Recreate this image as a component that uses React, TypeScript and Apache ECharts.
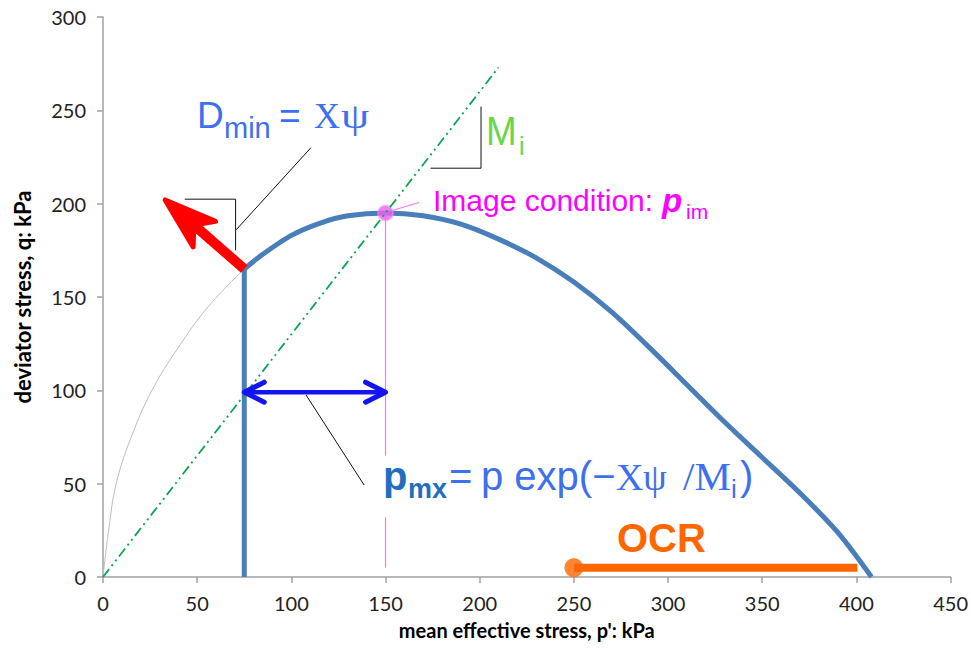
import React, { useEffect, useRef } from "react";
import * as echarts from "echarts";

// Yield surface in p'-q space (kPa)
const yieldCurve: [number, number][] = [
  [75, 165], [85, 173], [100, 183], [115, 189.5], [130, 193.5], [150, 195],
  [170, 193.5], [190, 189], [210, 181], [230, 171], [250, 158], [270, 142],
  [290, 123], [310, 103], [330, 83], [350, 64], [370, 45], [390, 24], [408, 0],
];
// Vertical cut-off of the surface at p_mx
const cutoffLine: [number, number][] = [[75, 0], [75, 165]];
// Faint continuation of the surface towards the origin
const innerCurve: [number, number][] = [
  [0, 0], [3, 25], [7, 50], [15, 75], [26, 100], [40, 123], [56, 145], [75, 165],
];
// Critical state line, slope M_i
const cslLine: [number, number][] = [[0, 0], [210, 273]];
// Image condition point and its projection
const imagePoint: [number, number] = [150, 195];
const imageDropUpper: [number, number][] = [[150, 195], [150, 65]];
const imageDropLower: [number, number][] = [[150, 32], [150, 5]];
// Dilatancy arrow (D_min) and the p_mx span
const dilatancyArrow: [number, number][] = [[75, 165], [33, 202]];
const pmxSpan: [number, number][] = [[75, 99], [150, 99]];
// OCR bar
const ocrBar: [number, number][] = [[250, 5], [400.5, 5]];
// Callout lines
const dminLeader: [number, number][] = [[110.4, 230], [70.7, 186]];
const dminBracket: [number, number][] = [[43.4, 202.4], [70.4, 202.4], [70.4, 175]];
const slopeBracket: [number, number][] = [[173.9, 219], [200.7, 219], [200.7, 252]];
const imageLeader: [number, number][] = [[151.9, 195.8], [167.7, 200.6]];
const pmxLeader: [number, number][] = [[107.8, 97.5], [138.6, 49.3]];

const SANS = '"Liberation Sans", Arial, sans-serif';
const SERIF = '"Liberation Serif", "Times New Roman", serif';
const AXIS_FONT = 'Lato, "Open Sans", sans-serif';

const BLUE = "#3d6ff0";
const DARK_BLUE = "#1f6fbe";
const MAGENTA = "#ff00ff";
const PINK_LINE = "#ff70ff";
const GREEN = "#6ad64a";
const ORANGE = "#ff6600";

type Run = {
  text: string;
  x: number;
  base: number;
  size: number;
  color: string;
  family?: string;
  weight?: string;
  italic?: boolean;
  sx?: number;
};

function runText(r: Run) {
  return {
    type: "text",
    x: r.x,
    y: r.base - 0.345 * r.size,
    scaleX: r.sx ?? 1,
    z: 100,
    style: {
      text: r.text,
      fill: r.color,
      fontSize: r.size,
      fontFamily: r.family ?? SANS,
      fontWeight: r.weight ?? "normal",
      fontStyle: r.italic ? "italic" : "normal",
      align: "left",
      verticalAlign: "middle",
    },
  };
}

const labelRuns: Run[] = [
  // D_min = Xψ
  { text: "D", x: 197, base: 128.5, size: 37, color: BLUE },
  { text: "min", x: 224, base: 138.5, size: 29, color: BLUE },
  { text: "=", x: 279, base: 128.5, size: 37, color: BLUE },
  { text: "X", x: 314, base: 128.5, size: 36, color: BLUE, family: SERIF },
  { text: "ψ", x: 341, base: 128.5, size: 36, color: BLUE, family: SERIF, sx: 1.25 },
  // M_i
  { text: "M", x: 486, base: 145, size: 40, color: GREEN, sx: 0.92 },
  { text: "i", x: 519, base: 155, size: 25, color: GREEN },
  // Image condition: p_im
  { text: "Image condition:", x: 433, base: 211, size: 30, color: MAGENTA },
  { text: "p", x: 662, base: 212, size: 33, color: MAGENTA, weight: "bold", italic: true },
  { text: "im", x: 686, base: 219, size: 21, color: MAGENTA },
  // p_mx = p exp(−Xψ /M_i)
  { text: "p", x: 383, base: 490, size: 40, color: DARK_BLUE, weight: "bold" },
  { text: "mx", x: 408, base: 498, size: 27, color: DARK_BLUE, weight: "bold" },
  { text: "=", x: 449, base: 490, size: 40, color: BLUE },
  { text: "p exp(−", x: 481, base: 490, size: 40, color: BLUE },
  { text: "X", x: 616, base: 490, size: 38, color: BLUE, family: SERIF },
  { text: "ψ", x: 643, base: 490, size: 38, color: BLUE, family: SERIF },
  { text: "/M", x: 683, base: 490, size: 41, color: BLUE, family: SERIF },
  { text: "i", x: 731, base: 498, size: 26, color: BLUE },
  { text: ")", x: 740, base: 490, size: 40, color: BLUE },
  // OCR
  { text: "OCR", x: 617, base: 552, size: 40, color: ORANGE, weight: "bold" },
];

function lineSeries(data: [number, number][], color: string, width: number, z = 3, extra: any = {}) {
  const { smooth, ...style } = extra;
  return {
    type: "line",
    data,
    symbol: "none",
    silent: true,
    z,
    smooth: smooth ?? false,
    lineStyle: { color, width, ...style },
  };
}

export default function App() {
  const ref = useRef<HTMLDivElement>(null);

  useEffect(() => {
    if (!ref.current) return;
    const chart = echarts.init(ref.current, null, { renderer: "svg" });

    const leaders = [dminLeader, dminBracket, slopeBracket, pmxLeader];

    chart.setOption({
      animation: false,
      backgroundColor: "#ffffff",
      grid: { left: 103, right: 17.5, top: 17, bottom: 73 },
      xAxis: {
        type: "value",
        min: 0,
        max: 450,
        interval: 50,
        name: "mean effective stress, p': kPa",
        nameLocation: "middle",
        nameGap: 43,
        nameTextStyle: { fontFamily: AXIS_FONT, fontWeight: "bold", fontSize: 20, color: "#000" },
        axisLine: { lineStyle: { color: "#a0a0a0", width: 1.5 } },
        axisTick: { show: true, length: 6, lineStyle: { color: "#a0a0a0", width: 1.5 } },
        axisLabel: { fontFamily: AXIS_FONT, fontSize: 20, color: "#222", margin: 16 },
        splitLine: { show: false },
      },
      yAxis: {
        type: "value",
        min: 0,
        max: 300,
        interval: 50,
        name: "deviator stress, q: kPa",
        nameLocation: "middle",
        nameGap: 70,
        nameTextStyle: { fontFamily: AXIS_FONT, fontWeight: "bold", fontSize: 22, color: "#000" },
        axisLine: { show: true, lineStyle: { color: "#a0a0a0", width: 1.5 } },
        axisTick: { show: true, length: 6, lineStyle: { color: "#a0a0a0", width: 1.5 } },
        axisLabel: { fontFamily: AXIS_FONT, fontSize: 20, color: "#222", margin: 17 },
        splitLine: { show: false },
      },
      series: [
        lineSeries(innerCurve, "#bdbdbd", 1, 2, { smooth: 0.4 }),
        lineSeries(yieldCurve, "#4a7ebb", 5, 4, { smooth: 0.3 }),
        lineSeries(cutoffLine, "#4a7ebb", 5, 4),
        lineSeries(imageDropUpper, PINK_LINE, 1.2, 3),
        lineSeries(imageDropLower, PINK_LINE, 1.2, 3),
        lineSeries(imageLeader, PINK_LINE, 1.2, 3),
        {
          type: "scatter",
          data: [imagePoint],
          symbolSize: 15,
          silent: true,
          z: 5,
          itemStyle: { color: "#f060f0", borderColor: "rgba(255,140,255,0.6)", borderWidth: 2 },
        },
        lineSeries(cslLine, "#0aa550", 1.8, 6, { type: [10, 4, 2, 4, 2, 4] }),
        ...leaders.map((d) => lineSeries(d, "#111111", 1, 3)),
        lineSeries(ocrBar, ORANGE, 8, 5, { cap: "butt" }),
        {
          type: "scatter",
          data: [ocrBar[0]],
          symbolSize: 19,
          silent: true,
          z: 6,
          itemStyle: { color: ORANGE },
        },
        // double-headed arrow for the p_mx span
        {
          type: "custom",
          silent: true,
          z: 7,
          data: [pmxSpan[0]],
          renderItem: (_p: any, api: any) => {
            const a = api.coord(pmxSpan[0]);
            const b = api.coord(pmxSpan[1]);
            const dx = b[0] - a[0];
            const dy = b[1] - a[1];
            const len = Math.hypot(dx, dy);
            const ux = dx / len;
            const uy = dy / len;
            const nx = -uy;
            const ny = ux;
            const L = 20;
            const W = 10;
            const head = (t: number[], s: number) => [
              [t[0] + s * L * ux + W * nx, t[1] + s * L * uy + W * ny],
              [t[0], t[1]],
              [t[0] + s * L * ux - W * nx, t[1] + s * L * uy - W * ny],
            ];
            const st = { stroke: "#1414f0", lineWidth: 5, lineCap: "round", lineJoin: "round", fill: null };
            return {
              type: "group",
              children: [
                { type: "line", shape: { x1: a[0] + 2, y1: a[1], x2: b[0] - 2, y2: b[1] }, style: { ...st, lineWidth: 4.5 } },
                { type: "polyline", shape: { points: head(a, 1) }, style: st },
                { type: "polyline", shape: { points: head(b, -1) }, style: st },
              ],
            };
          },
        },
        // thick dilatancy arrow
        {
          type: "custom",
          silent: true,
          z: 8,
          data: [dilatancyArrow[0]],
          renderItem: (_p: any, api: any) => {
            const a = api.coord(dilatancyArrow[0]);
            const b = api.coord(dilatancyArrow[1]);
            const dx = a[0] - b[0];
            const dy = a[1] - b[1];
            const len = Math.hypot(dx, dy);
            const bx = dx / len;
            const by = dy / len;
            const px = -by;
            const py = bx;
            const L = 52;
            const W = 17;
            const notch = 38;
            const pts = [
              [b[0], b[1]],
              [b[0] + L * bx + W * px, b[1] + L * by + W * py],
              [b[0] + notch * bx, b[1] + notch * by],
              [b[0] + L * bx - W * px, b[1] + L * by - W * py],
            ];
            return {
              type: "group",
              children: [
                {
                  type: "line",
                  shape: { x1: a[0], y1: a[1], x2: b[0] + (notch - 2) * bx, y2: b[1] + (notch - 2) * by },
                  style: { stroke: "#ff0000", lineWidth: 10, lineCap: "butt" },
                },
                {
                  type: "polygon",
                  shape: { points: pts },
                  style: { fill: "#ff0000", stroke: "#ff0000", lineWidth: 5, lineJoin: "round" },
                },
              ],
            };
          },
        },
      ],
      graphic: labelRuns.map(runText),
    });

    return () => chart.dispose();
  }, []);

  return (
    <div
      ref={ref}
      style={{ position: "fixed", left: 0, top: 0, width: 971, height: 650, background: "#fff" }}
    />
  );
}
